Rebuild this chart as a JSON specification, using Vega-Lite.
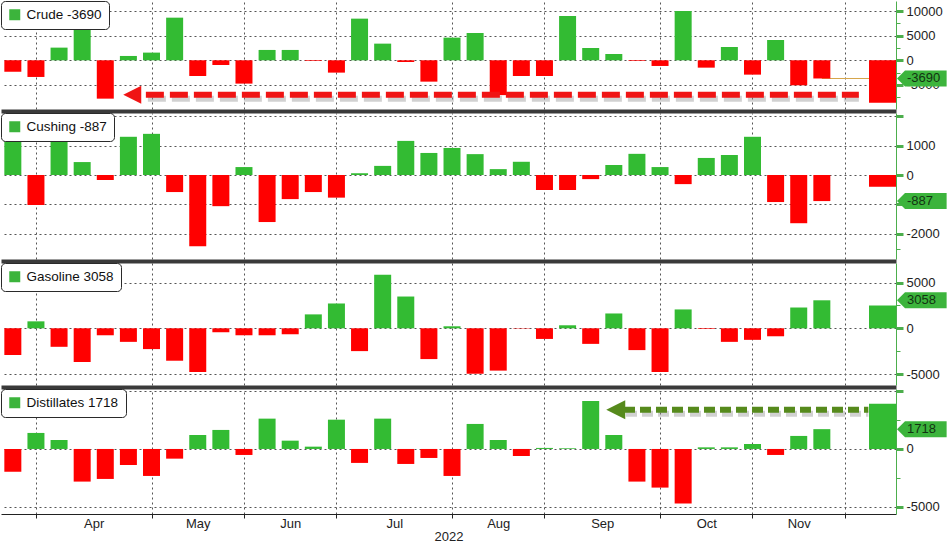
{
  "$schema": "https://vega.github.io/schema/vega-lite/v6.json",
  "padding": 0,
  "background": "white",
  "config": {"font": "Liberation Sans", "view": {"stroke": null}, "scale": {"continuousPadding": 0}},
  "datasets": {
    "weekly": [
      {"date": "2022-03-18", "kind": "EIA", "Crude": -2300, "Cushing": 1300, "Gasoline": -2920, "Distillates": -1970},
      {"date": "2022-03-25", "kind": "EIA", "Crude": -3380, "Cushing": -1020, "Gasoline": 760, "Distillates": 1390},
      {"date": "2022-04-01", "kind": "EIA", "Crude": 2570, "Cushing": 1200, "Gasoline": -2020, "Distillates": 780},
      {"date": "2022-04-08", "kind": "EIA", "Crude": 9380, "Cushing": 440, "Gasoline": -3680, "Distillates": -2830},
      {"date": "2022-04-15", "kind": "EIA", "Crude": -7780, "Cushing": -170, "Gasoline": -760, "Distillates": -2600},
      {"date": "2022-04-22", "kind": "EIA", "Crude": 880, "Cushing": 1300, "Gasoline": -1480, "Distillates": -1390},
      {"date": "2022-04-29", "kind": "EIA", "Crude": 1560, "Cushing": 1400, "Gasoline": -2270, "Distillates": -2340},
      {"date": "2022-05-06", "kind": "EIA", "Crude": 8650, "Cushing": -580, "Gasoline": -3540, "Distillates": -840},
      {"date": "2022-05-13", "kind": "EIA", "Crude": -3180, "Cushing": -2420, "Gasoline": -4770, "Distillates": 1210},
      {"date": "2022-05-20", "kind": "EIA", "Crude": -950, "Cushing": -1060, "Gasoline": -430, "Distillates": 1650},
      {"date": "2022-05-27", "kind": "EIA", "Crude": -4730, "Cushing": 270, "Gasoline": -760, "Distillates": -520},
      {"date": "2022-06-03", "kind": "EIA", "Crude": 2100, "Cushing": -1600, "Gasoline": -760, "Distillates": 2630},
      {"date": "2022-06-10", "kind": "EIA", "Crude": 2100, "Cushing": -820, "Gasoline": -650, "Distillates": 720},
      {"date": "2022-06-17", "kind": "EIA", "Crude": -140, "Cushing": -580, "Gasoline": 1520, "Distillates": 200},
      {"date": "2022-06-24", "kind": "EIA", "Crude": -2500, "Cushing": -770, "Gasoline": 2710, "Distillates": 2540},
      {"date": "2022-07-01", "kind": "EIA", "Crude": 8450, "Cushing": 60, "Gasoline": -2490, "Distillates": -1210},
      {"date": "2022-07-08", "kind": "EIA", "Crude": 3380, "Cushing": 310, "Gasoline": 5850, "Distillates": 2630},
      {"date": "2022-07-15", "kind": "EIA", "Crude": -340, "Cushing": 1160, "Gasoline": 3470, "Distillates": -1300},
      {"date": "2022-07-22", "kind": "EIA", "Crude": -4330, "Cushing": 750, "Gasoline": -3360, "Distillates": -780},
      {"date": "2022-07-29", "kind": "EIA", "Crude": 4600, "Cushing": 920, "Gasoline": 220, "Distillates": -2340},
      {"date": "2022-08-05", "kind": "EIA", "Crude": 5540, "Cushing": 710, "Gasoline": -4960, "Distillates": 2170},
      {"date": "2022-08-12", "kind": "EIA", "Crude": -7060, "Cushing": 200, "Gasoline": -4620, "Distillates": 780},
      {"date": "2022-08-19", "kind": "EIA", "Crude": -3180, "Cushing": 450, "Gasoline": -40, "Distillates": -610},
      {"date": "2022-08-26", "kind": "EIA", "Crude": -3180, "Cushing": -510, "Gasoline": -1160, "Distillates": 90},
      {"date": "2022-09-02", "kind": "EIA", "Crude": 8990, "Cushing": -510, "Gasoline": 330, "Distillates": 60},
      {"date": "2022-09-09", "kind": "EIA", "Crude": 2500, "Cushing": -140, "Gasoline": -1700, "Distillates": 4160},
      {"date": "2022-09-16", "kind": "EIA", "Crude": 1280, "Cushing": 340, "Gasoline": 1620, "Distillates": 1210},
      {"date": "2022-09-23", "kind": "EIA", "Crude": -140, "Cushing": 720, "Gasoline": -2380, "Distillates": -2830},
      {"date": "2022-09-30", "kind": "EIA", "Crude": -1150, "Cushing": 270, "Gasoline": -4770, "Distillates": -3350},
      {"date": "2022-10-07", "kind": "EIA", "Crude": 10000, "Cushing": -310, "Gasoline": 2060, "Distillates": -4740},
      {"date": "2022-10-14", "kind": "EIA", "Crude": -1490, "Cushing": 580, "Gasoline": -70, "Distillates": 140},
      {"date": "2022-10-21", "kind": "EIA", "Crude": 2700, "Cushing": 680, "Gasoline": -1480, "Distillates": 140},
      {"date": "2022-10-28", "kind": "EIA", "Crude": -2910, "Cushing": 1300, "Gasoline": -1260, "Distillates": 430},
      {"date": "2022-11-04", "kind": "EIA", "Crude": 4120, "Cushing": -920, "Gasoline": -870, "Distillates": -520},
      {"date": "2022-11-11", "kind": "EIA", "Crude": -5070, "Cushing": -1640, "Gasoline": 2270, "Distillates": 1130},
      {"date": "2022-11-18", "kind": "EIA", "Crude": -3690, "Cushing": -887, "Gasoline": 3058, "Distillates": 1718},
      {"date": "2022-12-06T09:00:00Z", "kind": "API", "Crude": -8600, "Cushing": -400, "Gasoline": 2490, "Distillates": 3930}
    ]
  },
  "data": {"name": "weekly"},
  "spacing": 4,
  "bounds": "flush",
  "resolve": {"scale": {"fill": "independent"}, "legend": {"fill": "independent"}},
  "vconcat": [
    {
      "width": 895, "height": 108,
      "resolve": {"axis": {"x": "independent", "y": "independent"}},
      "layer": [
        {
          "transform": [{"filter": {"field": "date", "equal": {"year": 2022, "month": 11, "date": 18, "utc": true}}}],
          "mark": {"type": "rule", "color": "#d6a54a", "strokeWidth": 1},
          "encoding": {
            "x": {"field": "date", "type": "temporal", "scale": {"type": "utc", "nice": false, "padding": 0, "domain": [{"year": 2022, "month": 3, "date": 14, "hours": 10, "utc": true}, {"year": 2022, "month": 12, "date": 10, "hours": 11, "utc": true}]}, "axis": null},
            "x2": {"value": "width"},
            "y": {"field": "Crude", "type": "quantitative", "scale": {"domain": [-9880, 12030], "nice": false, "zero": false, "padding": 0}, "axis": null}
          }
        },
        {
          "transform": [{"filter": "datum.kind == 'EIA'"}],
          "mark": {"type": "bar", "width": 17},
          "encoding": {
            "x": {"field": "date", "type": "temporal", "scale": {"type": "utc", "nice": false, "padding": 0, "domain": [{"year": 2022, "month": 3, "date": 14, "hours": 10, "utc": true}, {"year": 2022, "month": 12, "date": 10, "hours": 11, "utc": true}]},
              "axis": {"orient": "top", "values": [{"year": 2022, "month": 3, "date": 25, "utc": true}, {"year": 2022, "month": 4, "date": 29, "utc": true}, {"year": 2022, "month": 5, "date": 27, "utc": true}, {"year": 2022, "month": 6, "date": 24, "utc": true}, {"year": 2022, "month": 7, "date": 29, "utc": true}, {"year": 2022, "month": 8, "date": 26, "utc": true}, {"year": 2022, "month": 9, "date": 30, "utc": true}, {"year": 2022, "month": 10, "date": 28, "utc": true}, {"year": 2022, "month": 11, "date": 25, "utc": true}], "grid": true, "gridDash": [2, 3], "gridColor": "#555555", "ticks": false, "labels": false, "domain": false, "title": null}},
            "y": {"field": "Crude", "type": "quantitative", "scale": {"domain": [-9880, 12030], "nice": false, "zero": false, "padding": 0},
              "axis": {"orient": "right", "values": [10000, 5000, 0, -5000], "grid": true, "gridDash": [2, 3], "gridColor": "#555555", "domainColor": "#4cae4c", "tickColor": "#4cae4c", "tickSize": 7, "tickWidth": 3, "labelExpr": "'' + datum.value", "labelPadding": 3, "labelFontSize": 13, "labelColor": "#222222", "title": null}},
            "color": {"condition": {"test": "datum.Crude < 0", "value": "#ff0000"}, "value": "#33bb33"}
          }
        },
        {
          "transform": [{"filter": "datum.kind == 'API'"}],
          "mark": {"type": "bar", "width": 27},
          "encoding": {
            "x": {"field": "date", "type": "temporal", "scale": {"type": "utc", "nice": false, "padding": 0, "domain": [{"year": 2022, "month": 3, "date": 14, "hours": 10, "utc": true}, {"year": 2022, "month": 12, "date": 10, "hours": 11, "utc": true}]}, "axis": null},
            "y": {"field": "Crude", "type": "quantitative", "scale": {"domain": [-9880, 12030], "nice": false, "zero": false, "padding": 0},
              "axis": {"orient": "right", "values": [7500, 2500, -2500, -7500], "labels": false, "grid": false, "domain": false, "tickSize": 4, "tickWidth": 1, "tickColor": "#4cae4c", "title": null}},
            "color": {"condition": {"test": "datum.Crude < 0", "value": "#ff0000"}, "value": "#33bb33"}
          }
        },
        {
          "data": {"values": [{"from": "2022-04-27T07:00:00Z", "to": "2022-11-29T05:00:00Z", "head": "2022-04-23T04:00:00Z", "level": -7000}]},
          "mark": {"type": "rule", "color": "#8c8c8c", "opacity": 0.4, "strokeWidth": 6, "strokeDash": [18, 6], "xOffset": 2, "yOffset": 4},
          "encoding": {
            "x": {"field": "from", "type": "temporal", "scale": {"type": "utc", "nice": false, "padding": 0, "domain": [{"year": 2022, "month": 3, "date": 14, "hours": 10, "utc": true}, {"year": 2022, "month": 12, "date": 10, "hours": 11, "utc": true}]}, "axis": null},
            "x2": {"field": "to"},
            "y": {"field": "level", "type": "quantitative", "scale": {"domain": [-9880, 12030], "nice": false, "zero": false, "padding": 0}, "axis": null}
          }
        },
        {
          "data": {"values": [{"from": "2022-04-27T07:00:00Z", "to": "2022-11-29T05:00:00Z", "head": "2022-04-23T04:00:00Z", "level": -7000}]},
          "mark": {"type": "rule", "color": "#f01414", "strokeWidth": 6, "strokeDash": [18, 6]},
          "encoding": {
            "x": {"field": "from", "type": "temporal", "scale": {"type": "utc", "nice": false, "padding": 0, "domain": [{"year": 2022, "month": 3, "date": 14, "hours": 10, "utc": true}, {"year": 2022, "month": 12, "date": 10, "hours": 11, "utc": true}]}, "axis": null},
            "x2": {"field": "to"},
            "y": {"field": "level", "type": "quantitative", "scale": {"domain": [-9880, 12030], "nice": false, "zero": false, "padding": 0}, "axis": null}
          }
        },
        {
          "data": {"values": [{"from": "2022-04-27T07:00:00Z", "to": "2022-11-29T05:00:00Z", "head": "2022-04-23T04:00:00Z", "level": -7000}]},
          "mark": {"type": "point", "shape": "M-1,0L1,-1L1,1Z", "size": 324, "filled": true, "fill": "#f01414", "opacity": 1, "strokeWidth": 0},
          "encoding": {
            "x": {"field": "head", "type": "temporal", "scale": {"type": "utc", "nice": false, "padding": 0, "domain": [{"year": 2022, "month": 3, "date": 14, "hours": 10, "utc": true}, {"year": 2022, "month": 12, "date": 10, "hours": 11, "utc": true}]}, "axis": null},
            "y": {"field": "level", "type": "quantitative", "scale": {"domain": [-9880, 12030], "nice": false, "zero": false, "padding": 0}, "axis": null}
          }
        },
        {
          "transform": [{"filter": {"field": "date", "equal": {"year": 2022, "month": 11, "date": 18, "utc": true}}}, {"calculate": "'Crude ' + datum.Crude", "as": "label"}],
          "mark": {"type": "point", "shape": "M0,0L1,-1L6.2,-1L6.2,1L1,1Z", "size": 256, "filled": true, "opacity": 1, "strokeWidth": 0, "xOffset": 1},
          "encoding": {
            "x": {"value": "width"},
            "y": {"field": "Crude", "type": "quantitative", "scale": {"domain": [-9880, 12030], "nice": false, "zero": false, "padding": 0}, "axis": null},
            "fill": {"field": "label", "type": "nominal", "scale": {"range": ["#3cb43c"]},
              "legend": {"orient": "top-left", "offset": 0, "title": null, "symbolType": "square", "symbolSize": 121, "symbolStrokeWidth": 0, "symbolOpacity": 1, "labelFontSize": 13.5, "labelColor": "#111111", "labelOffset": 5, "padding": 7, "fillColor": "#ffffff", "strokeColor": "#2a2a2a", "cornerRadius": 4}}
          }
        },
        {
          "transform": [{"filter": {"field": "date", "equal": {"year": 2022, "month": 11, "date": 18, "utc": true}}}],
          "mark": {"type": "text", "align": "left", "baseline": "middle", "dx": 11, "fontSize": 13, "color": "#123312"},
          "encoding": {
            "x": {"value": "width"},
            "y": {"field": "Crude", "type": "quantitative", "scale": {"domain": [-9880, 12030], "nice": false, "zero": false, "padding": 0}, "axis": null},
            "text": {"field": "Crude", "type": "nominal"}
          }
        }
      ]
    },
    {
      "width": 895, "height": 146,
      "resolve": {"axis": {"x": "independent", "y": "independent"}},
      "layer": [
        {
          "transform": [{"filter": "datum.kind == 'EIA'"}],
          "mark": {"type": "bar", "width": 17},
          "encoding": {
            "x": {"field": "date", "type": "temporal", "scale": {"type": "utc", "nice": false, "padding": 0, "domain": [{"year": 2022, "month": 3, "date": 14, "hours": 10, "utc": true}, {"year": 2022, "month": 12, "date": 10, "hours": 11, "utc": true}]},
              "axis": {"orient": "top", "values": [{"year": 2022, "month": 3, "date": 25, "utc": true}, {"year": 2022, "month": 4, "date": 29, "utc": true}, {"year": 2022, "month": 5, "date": 27, "utc": true}, {"year": 2022, "month": 6, "date": 24, "utc": true}, {"year": 2022, "month": 7, "date": 29, "utc": true}, {"year": 2022, "month": 8, "date": 26, "utc": true}, {"year": 2022, "month": 9, "date": 30, "utc": true}, {"year": 2022, "month": 10, "date": 28, "utc": true}, {"year": 2022, "month": 11, "date": 25, "utc": true}], "grid": true, "gridDash": [2, 3], "gridColor": "#555555", "ticks": false, "labels": false, "domain": true, "domainColor": "#3a3a3a", "domainWidth": 4, "offset": 2, "title": null}},
            "y": {"field": "Cushing", "type": "quantitative", "scale": {"domain": [-2857, 2109], "nice": false, "zero": false, "padding": 0},
              "axis": {"orient": "right", "values": [2000, 1000, 0, -1000, -2000], "grid": true, "gridDash": [2, 3], "gridColor": "#555555", "domainColor": "#4cae4c", "tickColor": "#4cae4c", "tickSize": 7, "tickWidth": 3, "labelExpr": "datum.value == 2000 || datum.value == -1000 ? '' : '' + datum.value", "labelPadding": 3, "labelFontSize": 13, "labelColor": "#222222", "title": null}},
            "color": {"condition": {"test": "datum.Cushing < 0", "value": "#ff0000"}, "value": "#33bb33"}
          }
        },
        {
          "transform": [{"filter": "datum.kind == 'API'"}],
          "mark": {"type": "bar", "width": 27},
          "encoding": {
            "x": {"field": "date", "type": "temporal", "scale": {"type": "utc", "nice": false, "padding": 0, "domain": [{"year": 2022, "month": 3, "date": 14, "hours": 10, "utc": true}, {"year": 2022, "month": 12, "date": 10, "hours": 11, "utc": true}]}, "axis": null},
            "y": {"field": "Cushing", "type": "quantitative", "scale": {"domain": [-2857, 2109], "nice": false, "zero": false, "padding": 0},
              "axis": {"orient": "right", "values": [-2500], "labels": false, "grid": false, "domain": false, "tickSize": 4, "tickWidth": 1, "tickColor": "#4cae4c", "title": null}},
            "color": {"condition": {"test": "datum.Cushing < 0", "value": "#ff0000"}, "value": "#33bb33"}
          }
        },
        {
          "transform": [{"filter": {"field": "date", "equal": {"year": 2022, "month": 11, "date": 18, "utc": true}}}, {"calculate": "'Cushing ' + datum.Cushing", "as": "label"}],
          "mark": {"type": "point", "shape": "M0,0L1,-1L6.2,-1L6.2,1L1,1Z", "size": 256, "filled": true, "opacity": 1, "strokeWidth": 0, "xOffset": 1},
          "encoding": {
            "x": {"value": "width"},
            "y": {"field": "Cushing", "type": "quantitative", "scale": {"domain": [-2857, 2109], "nice": false, "zero": false, "padding": 0}, "axis": null},
            "fill": {"field": "label", "type": "nominal", "scale": {"range": ["#3cb43c"]},
              "legend": {"orient": "top-left", "offset": 0, "title": null, "symbolType": "square", "symbolSize": 121, "symbolStrokeWidth": 0, "symbolOpacity": 1, "labelFontSize": 13.5, "labelColor": "#111111", "labelOffset": 5, "padding": 7, "fillColor": "#ffffff", "strokeColor": "#2a2a2a", "cornerRadius": 4}}
          }
        },
        {
          "transform": [{"filter": {"field": "date", "equal": {"year": 2022, "month": 11, "date": 18, "utc": true}}}],
          "mark": {"type": "text", "align": "left", "baseline": "middle", "dx": 11, "fontSize": 13, "color": "#123312"},
          "encoding": {
            "x": {"value": "width"},
            "y": {"field": "Cushing", "type": "quantitative", "scale": {"domain": [-2857, 2109], "nice": false, "zero": false, "padding": 0}, "axis": null},
            "text": {"field": "Cushing", "type": "nominal"}
          }
        }
      ]
    },
    {
      "width": 895, "height": 122,
      "resolve": {"axis": {"x": "independent", "y": "independent"}},
      "layer": [
        {
          "transform": [{"filter": "datum.kind == 'EIA'"}],
          "mark": {"type": "bar", "width": 17},
          "encoding": {
            "x": {"field": "date", "type": "temporal", "scale": {"type": "utc", "nice": false, "padding": 0, "domain": [{"year": 2022, "month": 3, "date": 14, "hours": 10, "utc": true}, {"year": 2022, "month": 12, "date": 10, "hours": 11, "utc": true}]},
              "axis": {"orient": "top", "values": [{"year": 2022, "month": 3, "date": 25, "utc": true}, {"year": 2022, "month": 4, "date": 29, "utc": true}, {"year": 2022, "month": 5, "date": 27, "utc": true}, {"year": 2022, "month": 6, "date": 24, "utc": true}, {"year": 2022, "month": 7, "date": 29, "utc": true}, {"year": 2022, "month": 8, "date": 26, "utc": true}, {"year": 2022, "month": 9, "date": 30, "utc": true}, {"year": 2022, "month": 10, "date": 28, "utc": true}, {"year": 2022, "month": 11, "date": 25, "utc": true}], "grid": true, "gridDash": [2, 3], "gridColor": "#555555", "ticks": false, "labels": false, "domain": true, "domainColor": "#3a3a3a", "domainWidth": 4, "offset": 2, "title": null}},
            "y": {"field": "Gasoline", "type": "quantitative", "scale": {"domain": [-6190, 7130], "nice": false, "zero": false, "padding": 0},
              "axis": {"orient": "right", "values": [5000, 0, -5000], "grid": true, "gridDash": [2, 3], "gridColor": "#555555", "domainColor": "#4cae4c", "tickColor": "#4cae4c", "tickSize": 7, "tickWidth": 3, "labelExpr": "'' + datum.value", "labelPadding": 3, "labelFontSize": 13, "labelColor": "#222222", "title": null}},
            "color": {"condition": {"test": "datum.Gasoline < 0", "value": "#ff0000"}, "value": "#33bb33"}
          }
        },
        {
          "transform": [{"filter": "datum.kind == 'API'"}],
          "mark": {"type": "bar", "width": 27},
          "encoding": {
            "x": {"field": "date", "type": "temporal", "scale": {"type": "utc", "nice": false, "padding": 0, "domain": [{"year": 2022, "month": 3, "date": 14, "hours": 10, "utc": true}, {"year": 2022, "month": 12, "date": 10, "hours": 11, "utc": true}]}, "axis": null},
            "y": {"field": "Gasoline", "type": "quantitative", "scale": {"domain": [-6190, 7130], "nice": false, "zero": false, "padding": 0},
              "axis": {"orient": "right", "values": [2500, -2500], "labels": false, "grid": false, "domain": false, "tickSize": 4, "tickWidth": 1, "tickColor": "#4cae4c", "title": null}},
            "color": {"condition": {"test": "datum.Gasoline < 0", "value": "#ff0000"}, "value": "#33bb33"}
          }
        },
        {
          "transform": [{"filter": {"field": "date", "equal": {"year": 2022, "month": 11, "date": 18, "utc": true}}}, {"calculate": "'Gasoline ' + datum.Gasoline", "as": "label"}],
          "mark": {"type": "point", "shape": "M0,0L1,-1L6.2,-1L6.2,1L1,1Z", "size": 256, "filled": true, "opacity": 1, "strokeWidth": 0, "xOffset": 1},
          "encoding": {
            "x": {"value": "width"},
            "y": {"field": "Gasoline", "type": "quantitative", "scale": {"domain": [-6190, 7130], "nice": false, "zero": false, "padding": 0}, "axis": null},
            "fill": {"field": "label", "type": "nominal", "scale": {"range": ["#3cb43c"]},
              "legend": {"orient": "top-left", "offset": 0, "title": null, "symbolType": "square", "symbolSize": 121, "symbolStrokeWidth": 0, "symbolOpacity": 1, "labelFontSize": 13.5, "labelColor": "#111111", "labelOffset": 5, "padding": 7, "fillColor": "#ffffff", "strokeColor": "#2a2a2a", "cornerRadius": 4}}
          }
        },
        {
          "transform": [{"filter": {"field": "date", "equal": {"year": 2022, "month": 11, "date": 18, "utc": true}}}],
          "mark": {"type": "text", "align": "left", "baseline": "middle", "dx": 11, "fontSize": 13, "color": "#123312"},
          "encoding": {
            "x": {"value": "width"},
            "y": {"field": "Gasoline", "type": "quantitative", "scale": {"domain": [-6190, 7130], "nice": false, "zero": false, "padding": 0}, "axis": null},
            "text": {"field": "Gasoline", "type": "nominal"}
          }
        }
      ]
    },
    {
      "width": 895, "height": 125,
      "resolve": {"axis": {"x": "independent", "y": "independent"}},
      "layer": [
        {
          "transform": [{"filter": "datum.kind == 'EIA'"}],
          "mark": {"type": "bar", "width": 17},
          "encoding": {
            "x": {"field": "date", "type": "temporal", "scale": {"type": "utc", "nice": false, "padding": 0, "domain": [{"year": 2022, "month": 3, "date": 14, "hours": 10, "utc": true}, {"year": 2022, "month": 12, "date": 10, "hours": 11, "utc": true}]},
              "axis": {"orient": "top", "values": [{"year": 2022, "month": 3, "date": 25, "utc": true}, {"year": 2022, "month": 4, "date": 29, "utc": true}, {"year": 2022, "month": 5, "date": 27, "utc": true}, {"year": 2022, "month": 6, "date": 24, "utc": true}, {"year": 2022, "month": 7, "date": 29, "utc": true}, {"year": 2022, "month": 8, "date": 26, "utc": true}, {"year": 2022, "month": 9, "date": 30, "utc": true}, {"year": 2022, "month": 10, "date": 28, "utc": true}, {"year": 2022, "month": 11, "date": 25, "utc": true}], "grid": true, "gridDash": [2, 3], "gridColor": "#555555", "ticks": false, "labels": false, "domain": true, "domainColor": "#3a3a3a", "domainWidth": 4, "offset": 2, "title": null}},
            "y": {"field": "Distillates", "type": "quantitative", "scale": {"domain": [-5640, 5200], "nice": false, "zero": false, "padding": 0},
              "axis": {"orient": "right", "values": [5000, 0, -5000], "grid": true, "gridDash": [2, 3], "gridColor": "#555555", "domainColor": "#4cae4c", "tickColor": "#4cae4c", "tickSize": 7, "tickWidth": 3, "labelExpr": "datum.value == 5000 ? '' : '' + datum.value", "labelPadding": 3, "labelFontSize": 13, "labelColor": "#222222", "title": null}},
            "color": {"condition": {"test": "datum.Distillates < 0", "value": "#ff0000"}, "value": "#33bb33"}
          }
        },
        {
          "transform": [{"filter": "datum.kind == 'API'"}],
          "mark": {"type": "bar", "width": 27},
          "encoding": {
            "x": {"field": "date", "type": "temporal", "scale": {"type": "utc", "nice": false, "padding": 0, "domain": [{"year": 2022, "month": 3, "date": 14, "hours": 10, "utc": true}, {"year": 2022, "month": 12, "date": 10, "hours": 11, "utc": true}]},
              "axis": {"orient": "bottom", "values": [{"year": 2022, "month": 4, "date": 11, "hours": 12, "utc": true}, {"year": 2022, "month": 5, "date": 13, "utc": true}, {"year": 2022, "month": 6, "date": 10, "utc": true}, {"year": 2022, "month": 7, "date": 11, "hours": 12, "utc": true}, {"year": 2022, "month": 8, "date": 12, "utc": true}, {"year": 2022, "month": 9, "date": 12, "hours": 12, "utc": true}, {"year": 2022, "month": 10, "date": 14, "utc": true}, {"year": 2022, "month": 11, "date": 11, "utc": true}], "labelExpr": "utcFormat(datum.value, '%b')", "ticks": false, "tickSize": 0, "grid": false, "domain": true, "domainColor": "#222222", "domainWidth": 1, "labelFontSize": 13, "labelColor": "#222222", "labelPadding": 3, "labelFlush": false, "labelOverlap": false, "title": "2022", "titleFontSize": 13, "titleFontWeight": "normal", "titleColor": "#222222", "titlePadding": 0}},
            "y": {"field": "Distillates", "type": "quantitative", "scale": {"domain": [-5640, 5200], "nice": false, "zero": false, "padding": 0},
              "axis": {"orient": "right", "values": [2500, -2500], "labels": false, "grid": false, "domain": false, "tickSize": 4, "tickWidth": 1, "tickColor": "#4cae4c", "title": null}},
            "color": {"condition": {"test": "datum.Distillates < 0", "value": "#ff0000"}, "value": "#33bb33"}
          }
        },
        {
          "data": {"values": [{"from": "2022-09-19T02:00:00Z", "to": "2022-12-02T02:00:00Z", "head": "2022-09-16T14:00:00Z", "level": 3400}]},
          "mark": {"type": "rule", "color": "#8c8c8c", "opacity": 0.4, "strokeWidth": 6, "strokeDash": [11, 5], "xOffset": 2, "yOffset": 4},
          "encoding": {
            "x": {"field": "from", "type": "temporal", "scale": {"type": "utc", "nice": false, "padding": 0, "domain": [{"year": 2022, "month": 3, "date": 14, "hours": 10, "utc": true}, {"year": 2022, "month": 12, "date": 10, "hours": 11, "utc": true}]}, "axis": null},
            "x2": {"field": "to"},
            "y": {"field": "level", "type": "quantitative", "scale": {"domain": [-5640, 5200], "nice": false, "zero": false, "padding": 0}, "axis": null}
          }
        },
        {
          "data": {"values": [{"from": "2022-09-19T02:00:00Z", "to": "2022-12-02T02:00:00Z", "head": "2022-09-16T14:00:00Z", "level": 3400}]},
          "mark": {"type": "rule", "color": "#568a1c", "strokeWidth": 6, "strokeDash": [11, 5]},
          "encoding": {
            "x": {"field": "from", "type": "temporal", "scale": {"type": "utc", "nice": false, "padding": 0, "domain": [{"year": 2022, "month": 3, "date": 14, "hours": 10, "utc": true}, {"year": 2022, "month": 12, "date": 10, "hours": 11, "utc": true}]},
              "axis": {"orient": "bottom", "values": [{"year": 2022, "month": 3, "date": 25, "utc": true}, {"year": 2022, "month": 4, "date": 29, "utc": true}, {"year": 2022, "month": 5, "date": 27, "utc": true}, {"year": 2022, "month": 6, "date": 24, "utc": true}, {"year": 2022, "month": 7, "date": 29, "utc": true}, {"year": 2022, "month": 8, "date": 26, "utc": true}, {"year": 2022, "month": 9, "date": 30, "utc": true}, {"year": 2022, "month": 10, "date": 28, "utc": true}, {"year": 2022, "month": 11, "date": 25, "utc": true}], "labels": false, "grid": false, "domain": false, "ticks": true, "tickSize": 4, "tickColor": "#222222", "title": null}},
            "x2": {"field": "to"},
            "y": {"field": "level", "type": "quantitative", "scale": {"domain": [-5640, 5200], "nice": false, "zero": false, "padding": 0}, "axis": null}
          }
        },
        {
          "data": {"values": [{"from": "2022-09-19T02:00:00Z", "to": "2022-12-02T02:00:00Z", "head": "2022-09-16T14:00:00Z", "level": 3400}]},
          "mark": {"type": "point", "shape": "M-1,0L1,-1L1,1Z", "size": 361, "filled": true, "fill": "#568a1c", "opacity": 1, "strokeWidth": 0},
          "encoding": {
            "x": {"field": "head", "type": "temporal", "scale": {"type": "utc", "nice": false, "padding": 0, "domain": [{"year": 2022, "month": 3, "date": 14, "hours": 10, "utc": true}, {"year": 2022, "month": 12, "date": 10, "hours": 11, "utc": true}]}, "axis": null},
            "y": {"field": "level", "type": "quantitative", "scale": {"domain": [-5640, 5200], "nice": false, "zero": false, "padding": 0}, "axis": null}
          }
        },
        {
          "transform": [{"filter": {"field": "date", "equal": {"year": 2022, "month": 11, "date": 18, "utc": true}}}, {"calculate": "'Distillates ' + datum.Distillates", "as": "label"}],
          "mark": {"type": "point", "shape": "M0,0L1,-1L6.2,-1L6.2,1L1,1Z", "size": 256, "filled": true, "opacity": 1, "strokeWidth": 0, "xOffset": 1},
          "encoding": {
            "x": {"value": "width"},
            "y": {"field": "Distillates", "type": "quantitative", "scale": {"domain": [-5640, 5200], "nice": false, "zero": false, "padding": 0}, "axis": null},
            "fill": {"field": "label", "type": "nominal", "scale": {"range": ["#3cb43c"]},
              "legend": {"orient": "top-left", "offset": 0, "title": null, "symbolType": "square", "symbolSize": 121, "symbolStrokeWidth": 0, "symbolOpacity": 1, "labelFontSize": 13.5, "labelColor": "#111111", "labelOffset": 5, "padding": 7, "fillColor": "#ffffff", "strokeColor": "#2a2a2a", "cornerRadius": 4}}
          }
        },
        {
          "transform": [{"filter": {"field": "date", "equal": {"year": 2022, "month": 11, "date": 18, "utc": true}}}],
          "mark": {"type": "text", "align": "left", "baseline": "middle", "dx": 11, "fontSize": 13, "color": "#123312"},
          "encoding": {
            "x": {"value": "width"},
            "y": {"field": "Distillates", "type": "quantitative", "scale": {"domain": [-5640, 5200], "nice": false, "zero": false, "padding": 0}, "axis": null},
            "text": {"field": "Distillates", "type": "nominal"}
          }
        }
      ]
    }
  ]
}
